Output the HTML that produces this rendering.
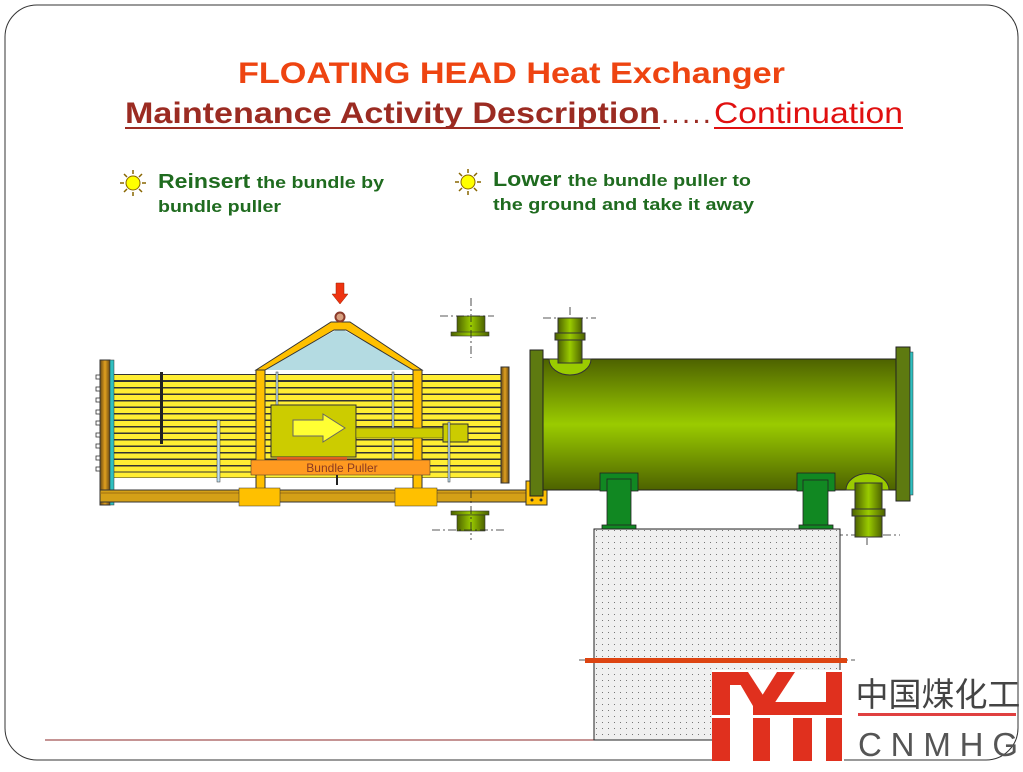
<!DOCTYPE html>
<html><head><meta charset="utf-8"><style>
body{margin:0;background:#fff;width:1023px;height:767px;overflow:hidden;font-family:"Liberation Sans",Arial,sans-serif}
</style></head><body>
<svg width="1023" height="767" viewBox="0 0 1023 767" xmlns="http://www.w3.org/2000/svg">
<defs>
<linearGradient id="sh" x1="0" y1="0" x2="0" y2="1">
<stop offset="0" stop-color="#4d6200"/><stop offset="0.5" stop-color="#9acb00"/><stop offset="1" stop-color="#4d6200"/></linearGradient>
<linearGradient id="nz" x1="0" y1="0" x2="1" y2="0">
<stop offset="0" stop-color="#4d6200"/><stop offset="0.5" stop-color="#9acb00"/><stop offset="1" stop-color="#4d6200"/></linearGradient>
<linearGradient id="fl" x1="0" y1="0" x2="1" y2="0">
<stop offset="0" stop-color="#6b4a10"/><stop offset="0.5" stop-color="#e0a020"/><stop offset="1" stop-color="#6b4a10"/></linearGradient>
<pattern id="dots" width="6" height="6" patternUnits="userSpaceOnUse"><rect width="6" height="6" fill="#f0f0f0"/><rect x="2" y="2" width="1" height="1" fill="#777"/></pattern>
</defs>
<rect x="5" y="5" width="1013" height="755" rx="32" fill="#fff" stroke="#333" stroke-width="1"/>
<line x1="45" y1="740" x2="712" y2="740" stroke="#8b2a2a" stroke-width="1"/>

<text x="238" y="83" font-size="30" font-weight="bold" fill="#ee4411" textLength="547" lengthAdjust="spacingAndGlyphs">FLOATING HEAD Heat Exchanger</text>
<text x="125" y="123" font-size="30" fill="#9b2b22" font-weight="bold" textLength="535" lengthAdjust="spacingAndGlyphs">Maintenance Activity Description</text>
<line x1="125" y1="128" x2="660" y2="128" stroke="#9b2b22" stroke-width="2"/>
<text x="661" y="123" font-size="30" fill="#9b2b22" textLength="50" lengthAdjust="spacing">.....</text>
<text x="714" y="123" font-size="30" fill="#e01010" textLength="189" lengthAdjust="spacingAndGlyphs">Continuation</text>
<line x1="714" y1="128" x2="903" y2="128" stroke="#e01010" stroke-width="2"/>

<g font-weight="bold" fill="#1f6b1f">
<text x="158" y="188" font-size="20" textLength="226" lengthAdjust="spacingAndGlyphs">Reinsert <tspan font-size="17">the bundle by</tspan></text>
<text x="158" y="212" font-size="17" textLength="123" lengthAdjust="spacingAndGlyphs">bundle puller</text>
<text x="493" y="186" font-size="20" textLength="258" lengthAdjust="spacingAndGlyphs">Lower <tspan font-size="17">the bundle puller to</tspan></text>
<text x="493" y="210" font-size="17" textLength="261" lengthAdjust="spacingAndGlyphs">the ground and take it away</text>
</g>
<g id="sun"><circle cx="133" cy="183" r="7" fill="#ffff00" stroke="#886600"/>
<g stroke="#886600" stroke-width="1.5"><line x1="133" y1="170" x2="133" y2="174"/><line x1="133" y1="192" x2="133" y2="196"/><line x1="120" y1="183" x2="124" y2="183"/><line x1="142" y1="183" x2="146" y2="183"/><line x1="124" y1="174" x2="127" y2="177"/><line x1="139" y1="189" x2="142" y2="192"/><line x1="124" y1="192" x2="127" y2="189"/><line x1="139" y1="177" x2="142" y2="174"/></g></g>
<use href="#sun" x="335" y="-1"/>

<!-- tube bundle -->
<rect x="112" y="374" width="392" height="104" fill="#333"/>
<g fill="#ffee33">
<rect x="112" y="375" width="392" height="5"/><rect x="112" y="382" width="392" height="5"/><rect x="112" y="388.5" width="392" height="5"/><rect x="112" y="395" width="392" height="5"/><rect x="112" y="401.5" width="392" height="5"/><rect x="112" y="408" width="392" height="5"/><rect x="112" y="414.5" width="392" height="5"/><rect x="112" y="421" width="392" height="5"/><rect x="112" y="427.5" width="392" height="5"/><rect x="112" y="434" width="392" height="5"/><rect x="112" y="440.5" width="392" height="5"/><rect x="112" y="447" width="392" height="5"/><rect x="112" y="453.5" width="392" height="5"/><rect x="112" y="460" width="392" height="5"/><rect x="112" y="466.5" width="392" height="5"/><rect x="112" y="472.5" width="392" height="5"/>
</g>
<rect x="160" y="372" width="3" height="72" fill="#222"/>
<rect x="217" y="420" width="3" height="62" fill="#bfe0f0" stroke="#333" stroke-width="0.5"/>
<rect x="100" y="360" width="10" height="145" fill="url(#fl)" stroke="#333"/>
<rect x="110" y="360" width="4" height="145" fill="#30c0c0" stroke="#333" stroke-width="0.5"/>
<g fill="#fff" stroke="#333" stroke-width="0.8">
<rect x="96" y="375" width="4" height="4"/><rect x="96" y="387" width="4" height="4"/><rect x="96" y="398" width="4" height="4"/><rect x="96" y="410" width="4" height="4"/><rect x="96" y="421" width="4" height="4"/><rect x="96" y="433" width="4" height="4"/><rect x="96" y="444" width="4" height="4"/><rect x="96" y="456" width="4" height="4"/><rect x="96" y="467" width="4" height="4"/>
</g>
<rect x="501" y="367" width="8" height="116" fill="url(#fl)" stroke="#333"/>

<!-- frame -->
<polygon points="262,370 340,328 416,370" fill="#b4dbe2"/>
<polygon points="256,370 331,322 350,322 422,370 413,370 346,330 334,330 265,370" fill="#ffc000" stroke="#333"/>
<rect x="276" y="372" width="2" height="40" fill="#bfe0f0" stroke="#333" stroke-width="0.5"/>
<rect x="392" y="372" width="2" height="90" fill="#bfe0f0" stroke="#333" stroke-width="0.5"/>
<rect x="256" y="370" width="9" height="120" fill="#ffc000" stroke="#333"/>
<rect x="413" y="370" width="9" height="120" fill="#ffc000" stroke="#333"/>
<circle cx="340" cy="317" r="4.5" fill="#d8a080" stroke="#8a3a2a" stroke-width="2"/>
<polygon points="336,283 344,283 344,294 348,294 340,304 332,294 336,294" fill="#ee3311" stroke="#992200" stroke-width="0.5"/>
<!-- puller -->
<rect x="271" y="405" width="85" height="52" fill="#cccc00" stroke="#333"/>
<polygon points="293,420 323,420 323,414 345,428 323,442 323,436 293,436" fill="#ffff33" stroke="#666"/>
<rect x="356" y="428" width="87" height="10" fill="#cccc00" stroke="#333" stroke-width="0.5"/>
<rect x="443" y="424" width="25" height="18" fill="#cccc00" stroke="#333"/>
<rect x="448" y="422" width="2" height="60" fill="#bfe0f0" stroke="#333" stroke-width="0.5"/>
<rect x="277" y="457" width="70" height="4" fill="#e06020"/>
<rect x="251" y="460" width="179" height="15" fill="#ff9a20" stroke="#333" stroke-width="0.5"/>
<text x="342" y="472" text-anchor="middle" font-size="12" fill="#8b3a22">Bundle Puller</text>
<rect x="336" y="475" width="2" height="10" fill="#222"/>
<!-- rail -->
<rect x="100" y="490" width="427" height="12" fill="#d4a017" stroke="#333"/>
<line x1="100" y1="493" x2="527" y2="493" stroke="#a07010"/>
<rect x="239" y="488" width="41" height="18" fill="#ffc000" stroke="#333" stroke-width="0.5"/>
<rect x="395" y="488" width="42" height="18" fill="#ffc000" stroke="#333" stroke-width="0.5"/>
<rect x="526" y="481" width="21" height="24" fill="#ffc000" stroke="#333"/>
<circle cx="532" cy="500" r="1.5" fill="#333"/><circle cx="541" cy="500" r="1.5" fill="#333"/>

<!-- floating nozzles -->
<g stroke="#333" stroke-width="0.6">
<rect x="457" y="316" width="28" height="17" fill="url(#nz)"/><rect x="451" y="332" width="38" height="4" fill="url(#nz)"/>
<rect x="451" y="511" width="38" height="4" fill="url(#nz)"/><rect x="457" y="515" width="28" height="16" fill="url(#nz)"/>
</g>
<g stroke="#222" stroke-width="0.8" stroke-dasharray="8,3,2,3" fill="none">
<line x1="471" y1="298" x2="471" y2="358"/><line x1="440" y1="316" x2="494" y2="316"/>
<line x1="471" y1="490" x2="471" y2="540"/><line x1="432" y1="530" x2="505" y2="530"/>
<line x1="570" y1="307" x2="570" y2="365"/><line x1="543" y1="318" x2="596" y2="318"/>
<line x1="867" y1="490" x2="867" y2="545"/><line x1="835" y1="535" x2="900" y2="535"/>
<line x1="579" y1="660" x2="855" y2="660"/>
</g>

<!-- shell -->
<rect x="543" y="359" width="355" height="131" fill="url(#sh)" stroke="#222"/>
<rect x="530" y="350" width="13" height="146" fill="#5e7a10" stroke="#222"/>
<rect x="896" y="347" width="14" height="154" fill="#5e7a10" stroke="#222"/>
<rect x="910" y="352" width="3" height="143" fill="#30c0c0" stroke="#333" stroke-width="0.5"/>
<path d="M549,359 A21,16 0 0 0 591,359 Z" fill="#9acb00" stroke="#333"/>
<rect x="558" y="318" width="24" height="45" fill="url(#nz)" stroke="#333"/>
<rect x="555" y="333" width="30" height="7" fill="url(#nz)" stroke="#333"/>
<!-- saddles -->
<g fill="#118822" stroke="#222" stroke-width="0.8">
<rect x="600" y="473" width="38" height="18"/><rect x="607" y="479" width="24" height="47"/><rect x="602" y="525" width="34" height="4"/>
<rect x="797" y="473" width="38" height="18"/><rect x="803" y="480" width="25" height="46"/><rect x="799" y="525" width="34" height="4"/>
</g>
<!-- right bottom nozzle -->
<path d="M846,490 A21,16 0 0 1 889,490 Z" fill="#9acb00" stroke="#333"/>
<rect x="855" y="483" width="27" height="54" fill="url(#nz)" stroke="#333"/>
<rect x="852" y="509" width="33" height="7" fill="url(#nz)" stroke="#333"/>
<!-- foundation -->
<rect x="594" y="529" width="246" height="211" fill="url(#dots)" stroke="#222"/>
<rect x="585" y="658" width="262" height="5" fill="#dd4411"/>

<!-- logo -->
<rect x="712" y="670" width="132" height="92" fill="#fff"/>
<g fill="#e0301e">
<rect x="712" y="672" width="18" height="89"/>
<rect x="712" y="672" width="36" height="13"/>
<polygon points="733,672 748,672 770,706 770,712 753,712 753,706"/>
<polygon points="777,672 795,672 770,710 753,710"/>
<rect x="753" y="704" width="17" height="57"/>
<rect x="770" y="702" width="72" height="13"/>
<rect x="793" y="715" width="19" height="46"/>
<rect x="826" y="672" width="16" height="89"/>
</g>
<rect x="712" y="715" width="132" height="3" fill="#fff"/>
<text x="938" y="706" text-anchor="middle" font-size="33" fill="#444" font-family="'Noto Sans CJK SC','WenQuanYi Zen Hei',sans-serif">中国煤化工</text>
<rect x="858" y="713" width="158" height="3" fill="#e04040"/>
<text x="858" y="756" font-size="33" fill="#555" textLength="160" lengthAdjust="spacing">CNMHG</text>
</svg>
</body></html>
